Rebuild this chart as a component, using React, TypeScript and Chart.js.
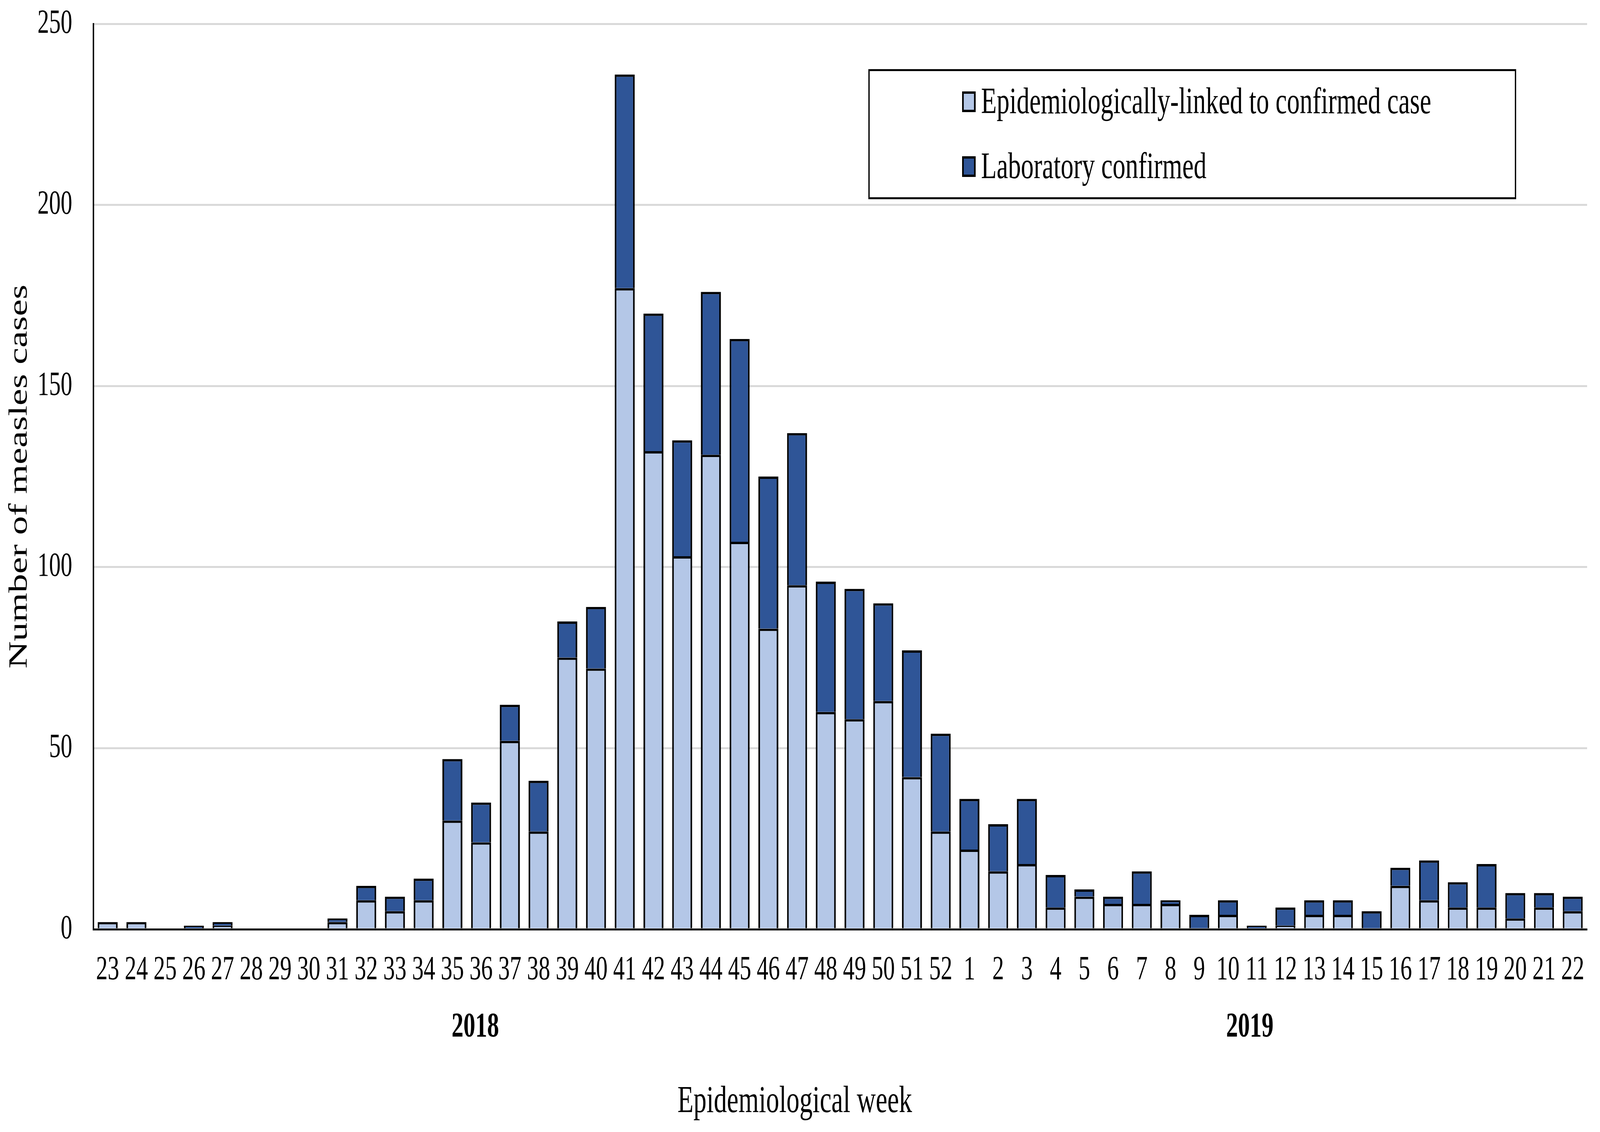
import React, { useEffect, useRef } from 'react';
import { Chart, registerables } from 'chart.js';

Chart.register(...registerables);

const weeks = [
  '23', '24', '25', '26', '27', '28', '29', '30', '31', '32', '33', '34', '35', '36', '37', '38',
  '39', '40', '41', '42', '43', '44', '45', '46', '47', '48', '49', '50', '51', '52',
  '1', '2', '3', '4', '5', '6', '7', '8', '9', '10', '11', '12', '13', '14', '15', '16', '17',
  '18', '19', '20', '21', '22',
];

const epiLinked = [
  2, 2, 0, 0, 1, 0, 0, 0, 2, 8, 5, 8, 30, 24, 52, 27,
  75, 72, 177, 132, 103, 131, 107, 83, 95, 60, 58, 63, 42, 27,
  22, 16, 18, 6, 9, 7, 7, 7, 0, 4, 0, 1, 4, 4, 0, 12, 8,
  6, 6, 3, 6, 5,
];

const labConfirmed = [
  0, 0, 0, 1, 1, 0, 0, 0, 1, 4, 4, 6, 17, 11, 10, 14,
  10, 17, 59, 38, 32, 45, 56, 42, 42, 36, 36, 27, 35, 27,
  14, 13, 18, 9, 2, 2, 9, 1, 4, 4, 1, 5, 4, 4, 5, 5, 11,
  7, 12, 7, 4, 4,
];

const seriesNames = ['Epidemiologically-linked to confirmed case', 'Laboratory confirmed'];
const seriesColors = ['#B4C7E7', '#2F5597'];
const yearLabels = ['2018', '2019'];
const yAxisTitle = 'Number of measles cases';
const xAxisTitle = 'Epidemiological week';
const yMin = 0;
const yMax = 250;
const yStep = 50;

const FONT = "'Liberation Serif', 'Times New Roman', serif";
const DW = 5935;
const DH = 2898;

const annotationPlugin = {
  id: 'annotationPlugin',
  afterDraw(chart: any) {
    const ctx: CanvasRenderingContext2D = chart.ctx;
    ctx.save();
    ctx.fillStyle = '#000';

    // Y axis title
    ctx.save();
    ctx.font = `97px ${FONT}`;
    ctx.translate(99, 1220);
    ctx.rotate(-Math.PI / 2);
    ctx.textAlign = 'center';
    ctx.textBaseline = 'alphabetic';
    ctx.fillText(yAxisTitle, 0, 0);
    ctx.restore();

    // X axis title
    ctx.font = `97px ${FONT}`;
    ctx.textAlign = 'center';
    ctx.textBaseline = 'alphabetic';
    ctx.fillText(xAxisTitle, 2948, 2847);

    // Year labels
    ctx.font = `bold 88px ${FONT}`;
    ctx.fillText(yearLabels[0], 1763, 2653);
    ctx.fillText(yearLabels[1], 4636, 2653);

    // Legend
    ctx.lineWidth = 5;
    ctx.strokeStyle = '#000';
    ctx.fillStyle = '#fff';
    ctx.fillRect(3221, 177, 2403, 333);
    ctx.strokeRect(3223.5, 179.5, 2398, 328);

    const markers = [
      { y: 234, base: 290 },
      { y: 400, base: 456 },
    ];
    markers.forEach((m, i) => {
      ctx.fillStyle = seriesColors[i];
      ctx.fillRect(3569, m.y, 50, 53);
      ctx.lineWidth = 6;
      ctx.strokeStyle = '#000';
      ctx.strokeRect(3572, m.y + 3, 44, 47);
      ctx.fillStyle = '#000';
      ctx.font = `95px ${FONT}`;
      ctx.textAlign = 'left';
      ctx.textBaseline = 'alphabetic';
      ctx.fillText(seriesNames[i], 3639, m.base);
    });

    ctx.restore();
  },
};

export default function App() {
  const canvasRef = useRef<HTMLCanvasElement | null>(null);

  useEffect(() => {
    const canvas = canvasRef.current;
    if (!canvas) return;
    canvas.style.width = window.innerWidth + 'px';
    canvas.style.height = window.innerHeight + 'px';

    const chart = new Chart(canvas, {
      type: 'bar',
      data: {
        labels: weeks,
        datasets: [
          {
            label: seriesNames[0],
            data: epiLinked,
            backgroundColor: seriesColors[0],
            borderColor: '#000',
            borderWidth: 6,
            borderSkipped: 'start',
            barPercentage: 0.694,
            categoryPercentage: 1,
            stack: 's',
          },
          {
            label: seriesNames[1],
            data: labConfirmed,
            backgroundColor: seriesColors[1],
            borderColor: '#000',
            borderWidth: 6,
            borderSkipped: 'start',
            barPercentage: 0.694,
            categoryPercentage: 1,
            stack: 's',
          },
        ],
      },
      options: {
        responsive: false,
        animation: false,
        devicePixelRatio: 1,
        layout: { padding: { left: 0, top: 61, right: 48, bottom: 0 } },
        plugins: {
          legend: { display: false },
          tooltip: { enabled: false },
          title: { display: false },
        },
        scales: {
          x: {
            stacked: true,
            grid: { display: false, drawTicks: false },
            border: { display: true, color: '#000', width: 5 },
            ticks: {
              color: '#000',
              font: { family: FONT, size: 86 },
              padding: 54,
              maxRotation: 0,
              minRotation: 0,
              autoSkip: false,
            },
            afterFit: (scale: any) => {
              scale.height = 519;
              scale.paddingLeft = 0;
              scale.paddingRight = 0;
            },
          },
          y: {
            stacked: true,
            min: yMin,
            max: yMax,
            grid: { color: '#d9d9d9', lineWidth: 5, drawTicks: false },
            border: { display: true, color: '#000', width: 5 },
            ticks: {
              stepSize: yStep,
              color: '#000',
              font: { family: FONT, size: 86 },
              padding: 78,
            },
            afterFit: (scale: any) => {
              scale.width = 346;
              scale.paddingTop = 0;
              scale.paddingBottom = 0;
            },
          },
        },
      },
      plugins: [annotationPlugin],
    });
    return () => chart.destroy();
  }, []);

  return (
    <div style={{ position: 'fixed', left: 0, top: 0, right: 0, bottom: 0, background: '#fff', overflow: 'hidden' }}>
      <canvas ref={canvasRef} width={DW} height={DH} style={{ display: 'block' }} />
    </div>
  );
}
